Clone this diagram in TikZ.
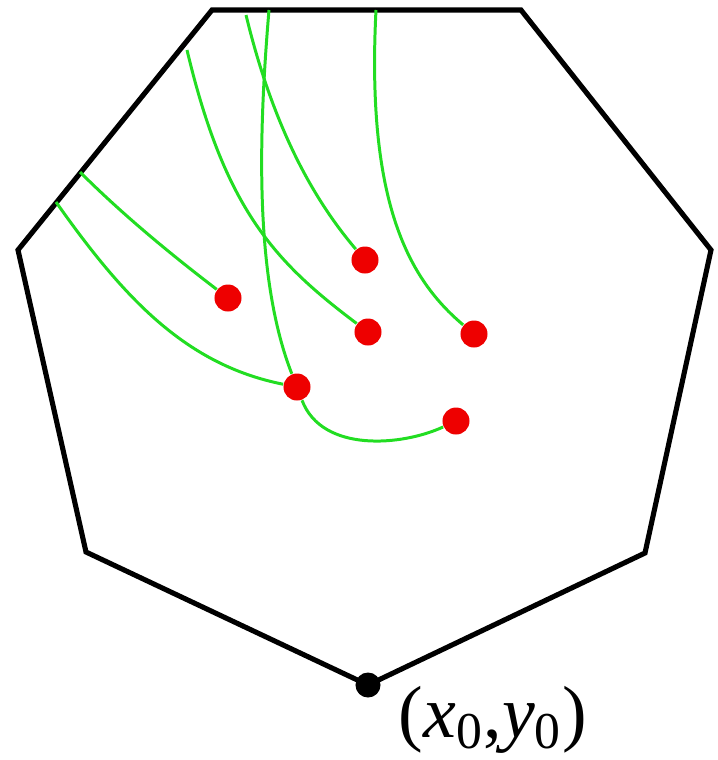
\documentclass[tikz,border=0pt]{standalone}
\usepackage{xcolor}
\definecolor{TrailGreen}{HTML}{22DD22}
\definecolor{DotRed}{HTML}{EE0000}
\usepackage{fontspec}
\setmainfont{Liberation Serif}
\usepackage{tikz}
\usetikzlibrary{positioning}

\begin{document}
\begin{tikzpicture}[x=0.01cm, y=-0.01cm,
  dot/.style={circle, fill=DotRed, inner sep=0pt, minimum size=0.27cm},
  trail/.style={TrailGreen, line width=0.85pt},
  wall/.style={black, line width=1.45pt, line join=miter}]
  \useasboundingbox (0,0) rectangle (717,760);

  % Heptagon corners (pixel grid, y down)
  \coordinate (v1) at (212,10);
  \coordinate (v2) at (521,10);
  \coordinate (v3) at (711,250);
  \coordinate (v4) at (645,553);
  \coordinate (v5) at (368,685);   % base point
  \coordinate (v6) at (86,552);
  \coordinate (v7) at (18,250);
  \draw[wall] (v1) -- (v2) -- (v3) -- (v4) -- (v5) -- (v6) -- (v7) -- cycle;

  % Base point and its label
  \node[circle, fill=black, inner sep=0pt, minimum size=0.25cm] (x0) at (v5) {};
  \node[anchor=north west, inner sep=0pt, font=\fontsize{21}{24}\selectfont]
    (lbl) at (398,686) {(\textit{x}\textsubscript{0},\textit{y}\textsubscript{0})};

  % Particles
  \node[dot] (p1) at (228,298) {};
  \node[dot] (p2) at (365,260) {};
  \node[dot] (p3) at (368,332) {};
  \node[dot] (p4) at (474,334) {};
  \node[dot] (p5) at (297,387) {};
  \node[dot] (p6) at (456,421) {};

  % Trail start points (on / near the walls)
  \coordinate (s1) at (80,172);
  \coordinate (s2) at (56,202);
  \coordinate (s3) at (187,50);
  \coordinate (s4) at (246,15);
  \coordinate (s5) at (269,10);
  \coordinate (s6) at (376,10);

  % Trails
  \draw[trail] (s1) .. controls (126,218) and (177,259) .. (p1);
  \draw[trail] (s2) .. controls (125,300) and (187,365) .. (p5);
  \draw[trail] (s3) .. controls (225,210) and (275,262) .. (p3);
  \draw[trail] (s4) .. controls (271,118) and (308,193) .. (p2);
  \draw[trail] (s5) .. controls (258,140) and (255,280) .. (p5);
  \draw[trail] (p5) .. controls (322,453) and (402,446) .. (p6);
  \draw[trail] (s6) .. controls (366,205) and (410,280) .. (p4);
\end{tikzpicture}
\end{document}
